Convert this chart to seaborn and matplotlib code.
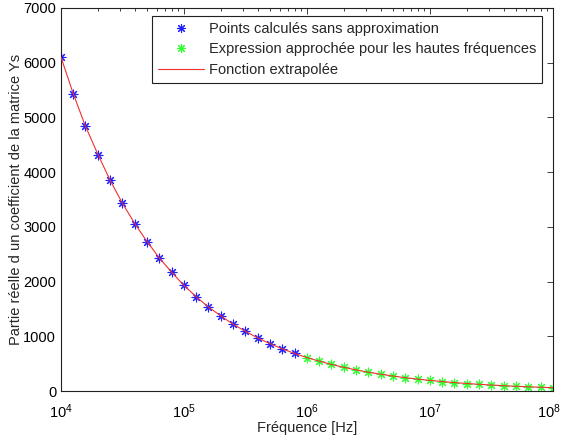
import numpy as np
import pandas as pd
import matplotlib
matplotlib.use("Agg")
import matplotlib.pyplot as plt
import matplotlib.transforms as mtransforms
import seaborn as sns
from matplotlib.lines import Line2D
from matplotlib.ticker import LogLocator, FixedLocator

# Data (10 points per decade)
freq_exact = [1.0e4, 1.26e4, 1.58e4, 2.0e4, 2.51e4, 3.16e4, 3.98e4, 5.01e4, 6.31e4, 7.94e4,
              1.0e5, 1.26e5, 1.58e5, 2.0e5, 2.51e5, 3.16e5, 3.98e5, 5.01e5, 6.31e5, 7.94e5]
ys_exact = [6100, 5430, 4840, 4320, 3850, 3430, 3060, 2730, 2430, 2170,
            1930, 1720, 1535, 1370, 1220, 1090, 970, 865, 770, 686]

freq_hf = [1.0e6, 1.26e6, 1.58e6, 2.0e6, 2.51e6, 3.16e6, 3.98e6, 5.01e6, 6.31e6, 7.94e6,
           1.0e7, 1.26e7, 1.58e7, 2.0e7, 2.51e7, 3.16e7, 3.98e7, 5.01e7, 6.31e7, 7.94e7, 1.0e8]
ys_hf = [610, 545, 485, 432, 385, 343, 306, 273, 243, 217,
         193, 172, 153, 137, 122, 109, 97, 86, 77, 69, 61]

label_exact = "Points calculés sans approximation"
label_hf = "Expression approchée pour les hautes fréquences"
label_fit = "Fonction extrapolée"
xlabel = "Fréquence [Hz]"
ylabel = "Partie réelle d un coefficient de la matrice Ys"

sns.set_style("white")
plt.rcParams['font.family'] = ['Liberation Sans', 'DejaVu Sans']
plt.rcParams['mathtext.fontset'] = 'custom'
plt.rcParams['mathtext.rm'] = 'Liberation Sans'
plt.rcParams['mathtext.it'] = 'Liberation Sans'

FS = 10.5
W, H = 561, 436
fig = plt.figure(figsize=(W / 100, H / 100), dpi=100)
ax = fig.add_axes([61 / W, 1 - 391 / H, (553 - 61) / W, (391 - 8) / H])

df_exact = pd.DataFrame({"f": freq_exact, "y": ys_exact})
df_hf = pd.DataFrame({"f": freq_hf, "y": ys_hf})
df_fit = pd.DataFrame({"f": freq_exact + freq_hf, "y": ys_exact + ys_hf})

ast = (8, 2, 0)
sns.scatterplot(data=df_exact, x="f", y="y", marker=ast, color="#2020ff", s=40,
                linewidth=0.8, ax=ax, legend=False, zorder=2)
sns.scatterplot(data=df_hf, x="f", y="y", marker=ast, color="#30ff30", s=40,
                linewidth=0.8, ax=ax, legend=False, zorder=2)
sns.lineplot(data=df_fit, x="f", y="y", color="#f03030", linewidth=0.8, ax=ax,
             legend=False, zorder=3)

ax.set_xscale("log")
ax.set_xlim(1e4, 1e8)
ax.set_ylim(0, 7000)
ax.set_yticks(range(0, 7001, 1000))
ax.xaxis.set_major_locator(FixedLocator([1e4, 1e5, 1e6, 1e7, 1e8]))
ax.xaxis.set_minor_locator(LogLocator(base=10, subs=np.arange(2, 10), numticks=20))

for s in ax.spines.values():
    s.set_color("#202020")
    s.set_linewidth(0.8)
ax.tick_params(axis="both", which="both", direction="in", top=True, right=True,
               labelsize=FS, colors="#202020", labelcolor="black")
ax.tick_params(which="major", length=4.5, width=0.6)
ax.tick_params(which="minor", length=2.5, width=0.6)
ax.tick_params(axis="x", pad=8.5)
ax.tick_params(axis="y", pad=3.5)

fig.canvas.draw()
lbls = ax.get_xticklabels()
if lbls:
    lbls[-1].set_transform(lbls[-1].get_transform() +
                           mtransforms.ScaledTranslation(-4 / 100, 0, fig.dpi_scale_trans))

ax.set_xlabel(xlabel, fontsize=FS, labelpad=0)
ax.set_ylabel(ylabel, fontsize=FS, labelpad=0)

handles = [
    Line2D([], [], linestyle="none", marker=ast, color="#2020ff", markersize=6.5, markeredgewidth=0.8),
    Line2D([], [], linestyle="none", marker=ast, color="#30ff30", markersize=6.5, markeredgewidth=0.8),
    Line2D([], [], color="#f03030", linewidth=0.8),
]
leg = ax.legend(handles, [label_exact, label_hf, label_fit], loc="upper right",
                bbox_to_anchor=((542 - 61) / (553 - 61), 1 - (16 - 8) / (391 - 8)),
                fontsize=FS, frameon=True, fancybox=False,
                edgecolor="#202020", framealpha=1, borderpad=0.4, labelspacing=0.45,
                handlelength=3.15, handletextpad=0.35, borderaxespad=0.0)
leg.get_frame().set_linewidth(0.8)

fig.savefig("out.png", dpi=100)
